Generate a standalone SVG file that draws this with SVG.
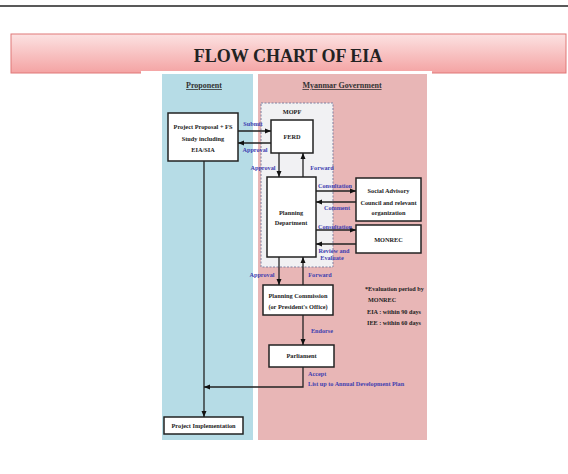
<svg xmlns="http://www.w3.org/2000/svg" width="568" height="474" viewBox="0 0 568 474">
<defs>
<linearGradient id="ban" x1="0" y1="0" x2="0" y2="1">
<stop offset="0" stop-color="#fce2e2"/>
<stop offset="1" stop-color="#f4a3a3"/>
</linearGradient>
<marker id="ah" markerUnits="userSpaceOnUse" markerWidth="6" markerHeight="6" refX="6" refY="3" orient="auto">
<path d="M0,0.5 L6,3 L0,5.5 z" fill="#111"/>
</marker>
<style>
.box{fill:#fff;stroke:#222;stroke-width:1.5}
.t{font-family:"Liberation Serif",serif;font-weight:bold;font-size:6.3px;fill:#222;text-anchor:middle}
.lb{font-family:"Liberation Serif",serif;font-weight:bold;font-size:6.2px;fill:#4040b0;text-anchor:middle}
.lbs{font-family:"Liberation Serif",serif;font-weight:bold;font-size:6.2px;fill:#4040b0}
.hd{font-family:"Liberation Serif",serif;font-weight:bold;font-size:8px;fill:#333;text-anchor:middle;text-decoration:underline}
.note{font-family:"Liberation Serif",serif;font-weight:bold;font-size:6.2px;fill:#222}
.c{fill:none;stroke:#222;stroke-width:1.3;marker-end:url(#ah)}
</style>
</defs>
<rect width="568" height="474" fill="#fff"/>
<line x1="0" y1="6" x2="568" y2="6" stroke="#222" stroke-width="1.5"/>
<g id="title">
<rect x="11" y="34" width="555" height="39" fill="url(#ban)" stroke="#e07878" stroke-width="1"/>
<text x="288" y="62" font-family="'Liberation Serif',serif" font-weight="bold" font-size="18" fill="#222" text-anchor="middle">FLOW CHART OF EIA</text>
</g>
<rect x="141" y="71" width="291" height="375" fill="#fff"/>
<g id="lane-proponent">
<rect x="162" y="74" width="91" height="366" fill="#b6dce6"/>
<text class="hd" x="204" y="88">Proponent</text>
</g>
<g id="lane-government">
<rect x="258" y="74" width="169" height="366" fill="#e8b6b6"/>
<text class="hd" x="342" y="88">Myanmar Government</text>
</g>
<g id="mopf">
<rect x="261" y="103" width="72" height="164" fill="#f1f1f3" stroke="#8080a0" stroke-width="1" stroke-dasharray="2,1.5"/>
<text class="t" x="292" y="114">MOPF</text>
</g>
<g id="proposal">
<rect class="box" x="168" y="113" width="70" height="48"/>
<text class="t" x="203" y="129">Project Proposal + FS</text>
<text class="t" x="203" y="141">Study including</text>
<text class="t" x="203" y="152">EIA/SIA</text>
</g>
<g id="ferd">
<rect class="box" x="271" y="120" width="42" height="33"/>
<text class="t" x="292" y="139">FERD</text>
</g>
<g id="planning">
<rect class="box" x="267" y="177" width="49" height="80"/>
<text class="t" x="291" y="215">Planning</text>
<text class="t" x="291" y="225">Department</text>
</g>
<g id="social">
<rect class="box" x="356" y="178" width="65" height="43"/>
<text class="t" x="388.5" y="193">Social Advisory</text>
<text class="t" x="388.5" y="205">Council and relevant</text>
<text class="t" x="388.5" y="215">organization</text>
</g>
<g id="monrec">
<rect class="box" x="356" y="225" width="65" height="28"/>
<text class="t" x="388.5" y="242">MONREC</text>
</g>
<g id="commission">
<rect class="box" x="263" y="285" width="70" height="30"/>
<text class="t" x="298" y="298">Planning Commission</text>
<text class="t" x="298" y="309">(or President's Office)</text>
</g>
<g id="parliament">
<rect class="box" x="269" y="345" width="65" height="22"/>
<text class="t" x="301.5" y="358">Parliament</text>
</g>
<g id="implementation">
<rect class="box" x="164" y="417" width="79" height="17"/>
<text class="t" x="203.5" y="428">Project Implementation</text>
</g>
<g id="note">
<text class="note" x="365" y="291">*Evaluation period by</text>
<text class="note" x="368" y="302">MONREC</text>
<text class="note" x="367" y="314">EIA : within 90 days</text>
<text class="note" x="367" y="325">IEE : within 60 days</text>
</g>
<g id="connectors">
<path class="c" d="M238,131 H271"/>
<path class="c" d="M271,143 H238"/>
<path class="c" d="M279,153 V177"/>
<path class="c" d="M303,177 V153"/>
<path class="c" d="M316,191 H356"/>
<path class="c" d="M356,202 H316"/>
<path class="c" d="M316,230 H356"/>
<path class="c" d="M356,244 H316"/>
<path class="c" d="M279,257 V285"/>
<path class="c" d="M303,285 V257"/>
<path class="c" d="M303,315 V345"/>
<path class="c" d="M303,367 V387 H204"/>
<path class="c" d="M204,161 V417"/>
<text class="lb" x="253" y="126">Submit</text>
<text class="lb" x="255" y="152">Approval</text>
<text class="lb" x="263" y="170">Approval</text>
<text class="lb" x="322" y="170">Forward</text>
<text class="lb" x="335" y="188">Consultation</text>
<text class="lb" x="337" y="210">Comment</text>
<text class="lb" x="335" y="229">Consultation</text>
<text class="lb" x="334" y="253">Review and</text>
<text class="lb" x="332" y="260">Evaluate</text>
<text class="lb" x="262" y="277">Approval</text>
<text class="lb" x="320" y="277">Forward</text>
<text class="lb" x="322" y="333">Endorse</text>
<text class="lbs" x="308" y="376">Accept</text>
<text class="lbs" x="308" y="386">List up to Annual Development Plan</text>
</g>
</svg>
